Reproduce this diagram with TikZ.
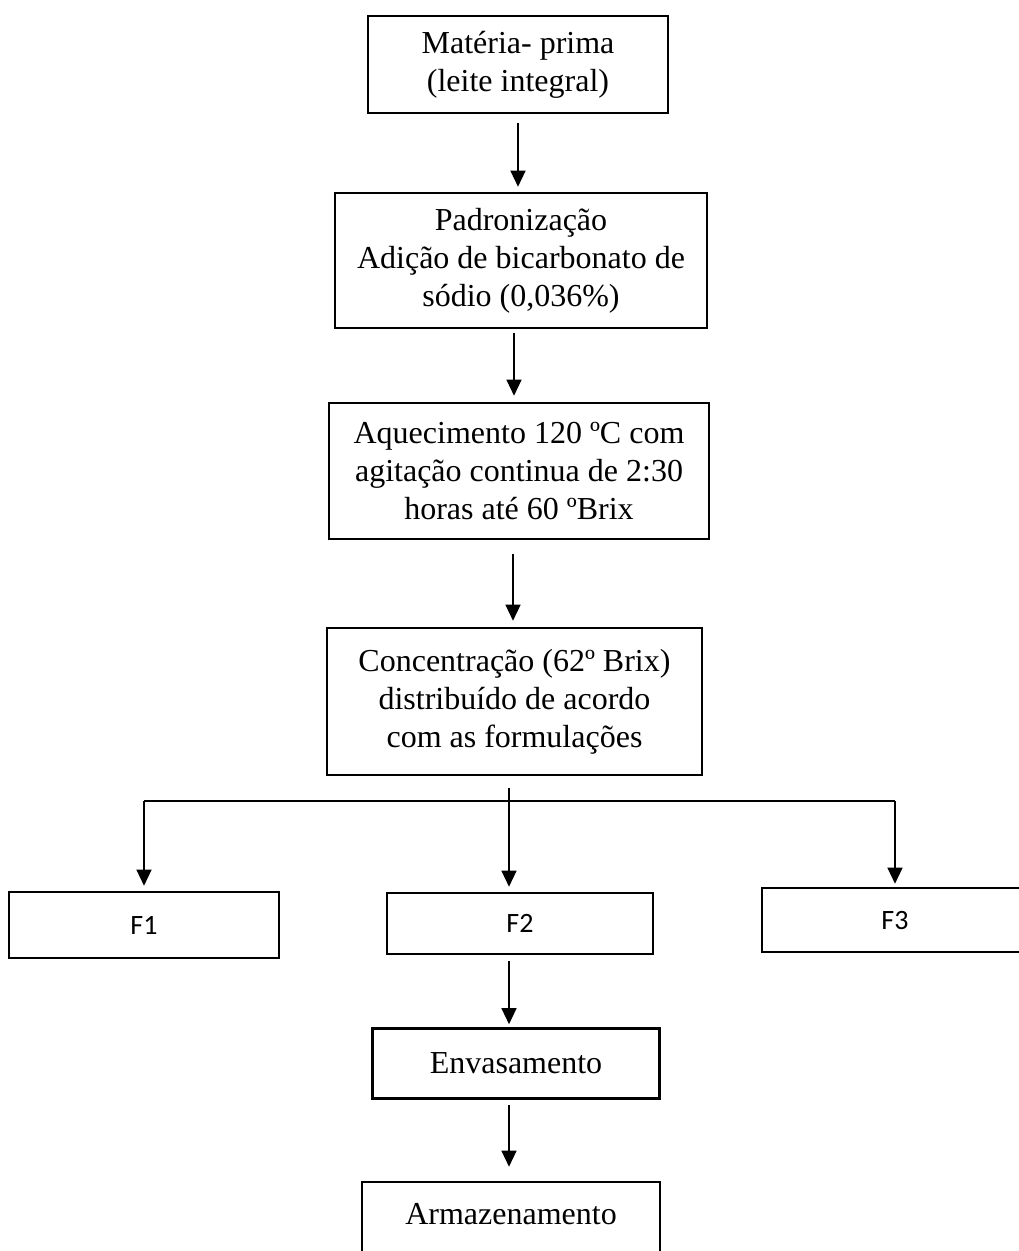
\documentclass[tikz,border=0pt]{standalone}
\usepackage{fontspec}
\setmainfont{Liberation Serif}
\newfontfamily\calfont{Carlito}
\usetikzlibrary{positioning,arrows.meta}

\begin{document}
\begin{tikzpicture}[x=1pt,y=-1pt,
		box/.style={draw, line width=2.6pt, align=center, inner sep=0pt,
			font={\fontsize{32}{38}\selectfont}},
		fbox/.style={box, font={\calfont\fontsize{28}{34}\selectfont}},
		arr/.style={line width=1.3pt, -{Triangle[length=16pt,width=15pt]}}]
		%% page size of the original figure
		\useasboundingbox (0,0) rectangle (1019,1251);
		%% main steps of the process
		\node[box, minimum width=300pt, minimum height=97pt] (mp) at (518,64.5) {Matéria- prima\\(leite integral)};
		\node[box, minimum width=372pt, minimum height=135pt] (pad) at (521,260.5) {Padronização\\Adição de bicarbonato de\\sódio (0,036\%)};
		\node[box, minimum width=380pt, minimum height=136pt] (aq) at (519,471) {Aquecimento 120 ºC com\\agitação continua de 2:30\\horas até 60 ºBrix};
		\node[box, minimum width=375pt, minimum height=147pt] (conc) at (514.5,701.5) {Concentração (62º Brix)\\distribuído de acordo\\com as formulações};
		%% the three formulations
		\node[fbox, minimum width=270pt, minimum height=66pt] (f1) at (144,925) {F1};
		\node[fbox, minimum width=266pt, minimum height=61pt] (f2) at (520,923.5) {F2};
		\node[fbox, minimum width=266pt, minimum height=64pt] (f3) at (895,920) {F3};
		\node[box, minimum width=287pt, minimum height=70pt] (env) at (516,1063.5) {Envasamento};
		\node[box, minimum width=298pt, minimum height=80pt, text depth=16pt] (arm) at (511,1222) {Armazenamento};
		%% arrows
		\draw[arr] ([yshift=-9pt]mp.south) -- ([yshift=5pt]mp.south |- pad.north);
		\draw[arr] ([xshift=-7pt,yshift=-4pt]pad.south) -- ([xshift=-7pt,yshift=6pt]pad.south |- aq.north);
		\draw[arr] ([xshift=-6pt,yshift=-14pt]aq.south) -- ([xshift=-6pt,yshift=6pt]aq.south |- conc.north);
		%% branching to F1, F2 and F3
		\coordinate (split) at (509,801);
		\draw[arr] ([xshift=-5.5pt,yshift=-12pt]conc.south) -- ([xshift=-5.5pt,yshift=5pt]conc.south |- f2.north);
		\draw[line width=1.3pt] (split -| f1.north) -- (split -| f3.north);
		\draw[arr] (split -| f1.north) -- ([yshift=5pt]f1.north);
		\draw[arr] (split -| f3.north) -- ([yshift=3pt]f3.north);
		\draw[arr] ([xshift=-11pt,yshift=-6pt]f2.south) -- ([xshift=-11pt,yshift=3pt]f2.south |- env.north);
		\draw[arr] ([xshift=-7pt,yshift=-5pt]env.south) -- ([xshift=-7pt,yshift=14pt]env.south |- arm.north);
	\end{tikzpicture}
\end{document}
